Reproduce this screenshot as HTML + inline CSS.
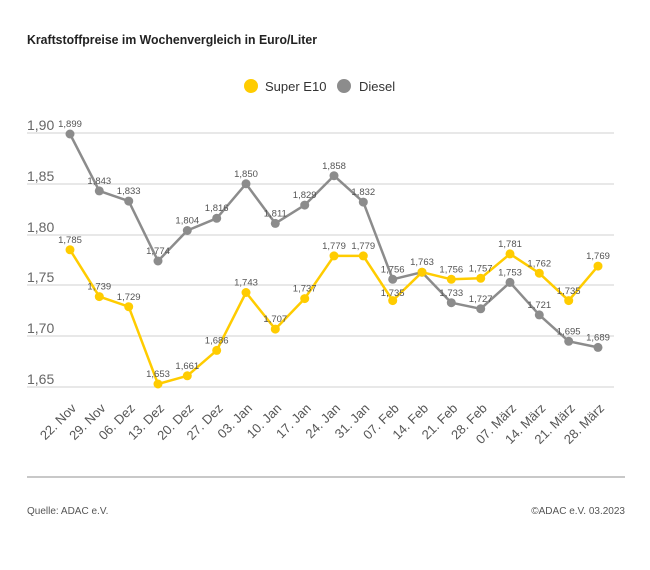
<!DOCTYPE html>
<html><head><meta charset="utf-8"><style>
body{margin:0;background:#fff}
svg{display:block;font-family:"Liberation Sans",sans-serif}
</style></head><body>
<svg width="650" height="570" viewBox="0 0 650 570" xmlns="http://www.w3.org/2000/svg">
<text x="27" y="44" font-size="13" font-weight="bold" fill="#222" textLength="290" lengthAdjust="spacingAndGlyphs">Kraftstoffpreise im Wochenvergleich in Euro/Liter</text>
<circle cx="251" cy="86" r="7" fill="#ffcc00"/>
<text x="265" y="91" font-size="13" fill="#333">Super E10</text>
<circle cx="344" cy="86" r="7" fill="#8c8c8c"/>
<text x="359" y="91" font-size="13" fill="#333">Diesel</text>
<g stroke="#d0d0d0" stroke-width="1">
<line x1="27" y1="133" x2="614" y2="133"/><line x1="27" y1="184" x2="614" y2="184"/>
<line x1="27" y1="235" x2="614" y2="235"/><line x1="27" y1="285" x2="614" y2="285"/>
<line x1="27" y1="336" x2="614" y2="336"/><line x1="27" y1="387" x2="614" y2="387"/>
</g>
<line x1="27" y1="477" x2="625" y2="477" stroke="#c8c8c8" stroke-width="2"/>
<g font-size="14" fill="#666">
<text x="27" y="130">1,90</text><text x="27" y="181">1,85</text><text x="27" y="232">1,80</text>
<text x="27" y="282">1,75</text><text x="27" y="333">1,70</text><text x="27" y="384">1,65</text>
</g>
<polyline fill="none" stroke="#8c8c8c" stroke-width="2.5" stroke-linejoin="round" points="70,134 99.3,190.9 128.7,201.1 158,261 187.3,230.5 216.7,218.3 246,183.8 275.3,223.4 304.7,205.1 334,175.7 363.3,202.1 392.7,279.3 422,272.2 451.3,302.7 480.7,308.8 510,282.4 539.3,314.9 568.7,341.3 598,347.4"/>
<g fill="#8c8c8c">
<circle cx="70" cy="134" r="4.5"/><circle cx="99.3" cy="190.9" r="4.5"/><circle cx="128.7" cy="201.1" r="4.5"/><circle cx="158" cy="261" r="4.5"/><circle cx="187.3" cy="230.5" r="4.5"/><circle cx="216.7" cy="218.3" r="4.5"/><circle cx="246" cy="183.8" r="4.5"/><circle cx="275.3" cy="223.4" r="4.5"/><circle cx="304.7" cy="205.1" r="4.5"/><circle cx="334" cy="175.7" r="4.5"/><circle cx="363.3" cy="202.1" r="4.5"/><circle cx="392.7" cy="279.3" r="4.5"/><circle cx="422" cy="272.2" r="4.5"/><circle cx="451.3" cy="302.7" r="4.5"/><circle cx="480.7" cy="308.8" r="4.5"/><circle cx="510" cy="282.4" r="4.5"/><circle cx="539.3" cy="314.9" r="4.5"/><circle cx="568.7" cy="341.3" r="4.5"/><circle cx="598" cy="347.4" r="4.5"/>
</g>
<polyline fill="none" stroke="#ffcc00" stroke-width="2.5" stroke-linejoin="round" points="70,249.8 99.3,296.6 128.7,306.7 158,384 187.3,375.8 216.7,350.4 246,292.5 275.3,329.1 304.7,298.6 334,255.9 363.3,255.9 392.7,300.6 422,272.2 451.3,279.3 480.7,278.3 510,253.9 539.3,273.2 568.7,300.6 598,266.1"/>
<g fill="#ffcc00">
<circle cx="70" cy="249.8" r="4.5"/><circle cx="99.3" cy="296.6" r="4.5"/><circle cx="128.7" cy="306.7" r="4.5"/><circle cx="158" cy="384" r="4.5"/><circle cx="187.3" cy="375.8" r="4.5"/><circle cx="216.7" cy="350.4" r="4.5"/><circle cx="246" cy="292.5" r="4.5"/><circle cx="275.3" cy="329.1" r="4.5"/><circle cx="304.7" cy="298.6" r="4.5"/><circle cx="334" cy="255.9" r="4.5"/><circle cx="363.3" cy="255.9" r="4.5"/><circle cx="392.7" cy="300.6" r="4.5"/><circle cx="422" cy="272.2" r="4.5"/><circle cx="451.3" cy="279.3" r="4.5"/><circle cx="480.7" cy="278.3" r="4.5"/><circle cx="510" cy="253.9" r="4.5"/><circle cx="539.3" cy="273.2" r="4.5"/><circle cx="568.7" cy="300.6" r="4.5"/><circle cx="598" cy="266.1" r="4.5"/>
</g>
<g font-size="9.5" fill="#555" text-anchor="middle">
<text x="70" y="127">1,899</text><text x="99.3" y="184">1,843</text><text x="128.7" y="194">1,833</text><text x="158" y="254">1,774</text><text x="187.3" y="223.5">1,804</text><text x="216.7" y="211">1,816</text><text x="246" y="177">1,850</text><text x="275.3" y="216.5">1,811</text><text x="304.7" y="198">1,829</text><text x="334" y="169">1,858</text><text x="363.3" y="195">1,832</text><text x="392.7" y="272.5">1,756</text><text x="422" y="265">1,763</text><text x="451.3" y="296">1,733</text><text x="480.7" y="302">1,727</text><text x="510" y="275.5">1,753</text><text x="539.3" y="308">1,721</text><text x="568.7" y="334.5">1,695</text><text x="598" y="340.5">1,689</text>
<text x="70" y="243">1,785</text><text x="99.3" y="289.5">1,739</text><text x="128.7" y="300">1,729</text><text x="158" y="377">1,653</text><text x="187.3" y="369">1,661</text><text x="216.7" y="343.5">1,686</text><text x="246" y="285.5">1,743</text><text x="275.3" y="322">1,707</text><text x="304.7" y="291.5">1,737</text><text x="334" y="249">1,779</text><text x="363.3" y="249">1,779</text><text x="392.7" y="296">1,735</text><text x="451.3" y="272.5">1,756</text><text x="480.7" y="271.5">1,757</text><text x="510" y="247">1,781</text><text x="539.3" y="266.5">1,762</text><text x="568.7" y="294">1,735</text><text x="598" y="259">1,769</text>
</g>
<g font-size="13" fill="#555" text-anchor="end">
<text x="77" y="409" transform="rotate(-45 77 409)">22. Nov</text>
<text x="106.3" y="409" transform="rotate(-45 106.3 409)">29. Nov</text>
<text x="135.7" y="409" transform="rotate(-45 135.7 409)">06. Dez</text>
<text x="165" y="409" transform="rotate(-45 165 409)">13. Dez</text>
<text x="194.3" y="409" transform="rotate(-45 194.3 409)">20. Dez</text>
<text x="223.7" y="409" transform="rotate(-45 223.7 409)">27. Dez</text>
<text x="253" y="409" transform="rotate(-45 253 409)">03. Jan</text>
<text x="282.3" y="409" transform="rotate(-45 282.3 409)">10. Jan</text>
<text x="311.7" y="409" transform="rotate(-45 311.7 409)">17. Jan</text>
<text x="341" y="409" transform="rotate(-45 341 409)">24. Jan</text>
<text x="370.3" y="409" transform="rotate(-45 370.3 409)">31. Jan</text>
<text x="399.7" y="409" transform="rotate(-45 399.7 409)">07. Feb</text>
<text x="429" y="409" transform="rotate(-45 429 409)">14. Feb</text>
<text x="458.3" y="409" transform="rotate(-45 458.3 409)">21. Feb</text>
<text x="487.7" y="409" transform="rotate(-45 487.7 409)">28. Feb</text>
<text x="517" y="409" transform="rotate(-45 517 409)">07. März</text>
<text x="546.3" y="409" transform="rotate(-45 546.3 409)">14. März</text>
<text x="575.7" y="409" transform="rotate(-45 575.7 409)">21. März</text>
<text x="605" y="409" transform="rotate(-45 605 409)">28. März</text>
</g>
<text x="27" y="514" font-size="10" fill="#555">Quelle: ADAC e.V.</text>
<text x="625" y="514" font-size="10" fill="#555" text-anchor="end">©ADAC e.V. 03.2023</text>
</svg>
</body></html>
